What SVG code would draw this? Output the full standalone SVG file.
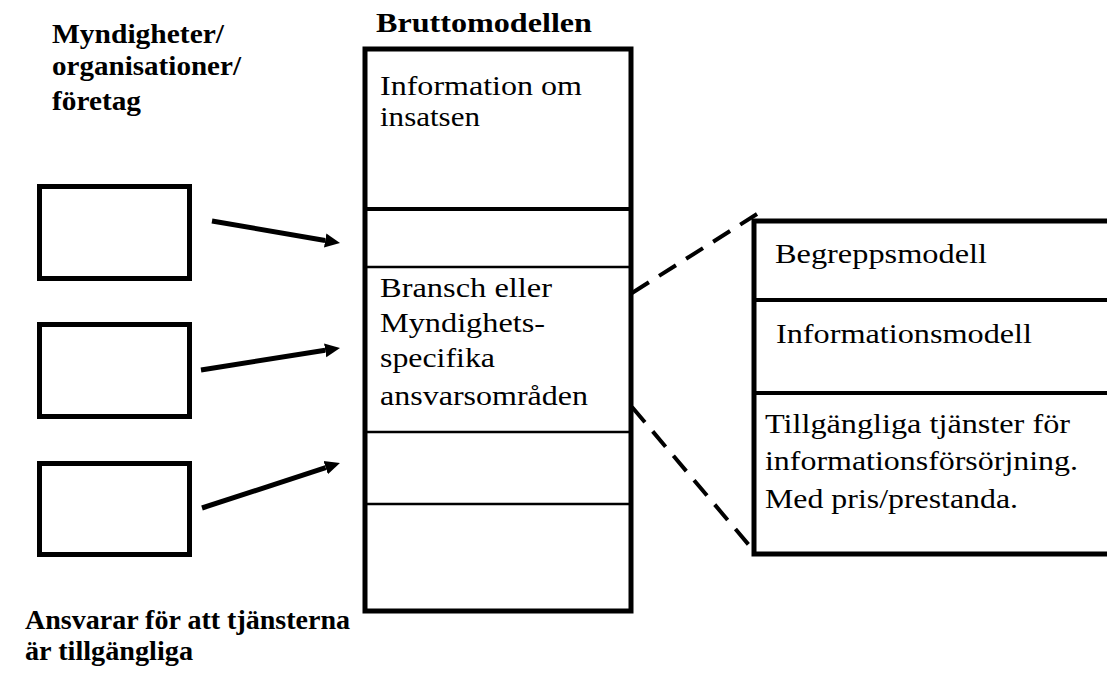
<svg xmlns="http://www.w3.org/2000/svg" width="1107" height="675" viewBox="0 0 1107 675">
  <style>
    text { font-family: 'Liberation Serif', Tinos, 'Times New Roman', Times, serif; font-size: 28px; fill: #000; }
    .b { font-weight: bold; }
    .sm { font-size: 27px; }
    .box { fill: none; stroke: #000; stroke-width: 5; }
    .thin { stroke: #000; stroke-width: 2.5; fill: none; }
    .mid { stroke: #000; stroke-width: 4; fill: none; }
    .arrow { stroke: #000; stroke-width: 5; fill: none; marker-end: url(#head); }
    .dash { stroke: #000; stroke-width: 4; fill: none; stroke-dasharray: 20 12; }
  </style>
  <defs>
    <marker id="head" markerUnits="userSpaceOnUse" markerWidth="16" markerHeight="16" viewBox="0 -8 16 16" refX="0" refY="0" orient="auto">
      <path d="M0,-7 L15,0 L0,7 z" fill="#000"/>
    </marker>
  </defs>
  <rect width="1107" height="675" fill="#fff"/>

  <!-- left column heading -->
  <g id="actors-label">
    <text class="b" x="52" y="43" textLength="172" lengthAdjust="spacingAndGlyphs">Myndigheter/</text>
    <text class="b" x="52" y="75" textLength="189" lengthAdjust="spacingAndGlyphs">organisationer/</text>
    <text class="b" x="52" y="110" textLength="89" lengthAdjust="spacingAndGlyphs">företag</text>
  </g>

  <!-- actor boxes -->
  <g id="actor-1"><rect class="box" x="39.5" y="186.5" width="150" height="92"/></g>
  <g id="actor-2"><rect class="box" x="39.5" y="324.5" width="150" height="92"/></g>
  <g id="actor-3"><rect class="box" x="39.5" y="463.5" width="150" height="91"/></g>

  <!-- gross model stack -->
  <g id="bruttomodellen">
    <text class="b" x="376" y="32" textLength="216" lengthAdjust="spacingAndGlyphs">Bruttomodellen</text>
    <rect class="box" x="365" y="49" width="266" height="562"/>
    <line class="mid" x1="365" y1="209" x2="631" y2="209"/>
    <line class="thin" x1="365" y1="267" x2="631" y2="267"/>
    <line class="thin" x1="365" y1="432" x2="631" y2="432"/>
    <line class="thin" x1="365" y1="504" x2="631" y2="504"/>
    <text class="sm" x="380" y="95" textLength="202" lengthAdjust="spacingAndGlyphs">Information om</text>
    <text class="sm" x="380" y="126" textLength="100" lengthAdjust="spacingAndGlyphs">insatsen</text>
    <text x="380" y="297" textLength="172" lengthAdjust="spacingAndGlyphs">Bransch eller</text>
    <text x="380" y="332" textLength="165" lengthAdjust="spacingAndGlyphs">Myndighets-</text>
    <text x="380" y="367" textLength="115" lengthAdjust="spacingAndGlyphs">specifika</text>
    <text x="380" y="405" textLength="208" lengthAdjust="spacingAndGlyphs">ansvarsområden</text>
  </g>

  <!-- detail panel -->
  <g id="detail">
    <path class="box" d="M1112,221 H754 V554 H1112"/>
    <line class="mid" x1="754" y1="300" x2="1112" y2="300"/>
    <line class="mid" x1="754" y1="393" x2="1112" y2="393"/>
    <text x="775" y="263" textLength="212" lengthAdjust="spacingAndGlyphs">Begreppsmodell</text>
    <text x="776" y="343" textLength="256" lengthAdjust="spacingAndGlyphs">Informationsmodell</text>
    <text x="765" y="433" textLength="305" lengthAdjust="spacingAndGlyphs">Tillgängliga tjänster för</text>
    <text x="765" y="470" textLength="313" lengthAdjust="spacingAndGlyphs">informationsförsörjning.</text>
    <text x="765" y="508" textLength="253" lengthAdjust="spacingAndGlyphs">Med pris/prestanda.</text>
  </g>

  <!-- footer note -->
  <g id="responsibility-label">
    <text class="b" x="25" y="629" textLength="325" lengthAdjust="spacingAndGlyphs">Ansvarar för att tjänsterna</text>
    <text class="b" x="25" y="660" textLength="168" lengthAdjust="spacingAndGlyphs">är tillgängliga</text>
  </g>

  <!-- connectors -->
  <g id="connectors">
    <path class="arrow" d="M212,221 L325.2,240.5"/>
    <path class="arrow" d="M201,370 L325.2,350.3"/>
    <path class="arrow" d="M202,508 L325.7,467.6"/>
    <path class="dash" d="M632,293 L757,214"/>
    <path class="dash" d="M632,407 L754,551"/>
  </g>
</svg>
